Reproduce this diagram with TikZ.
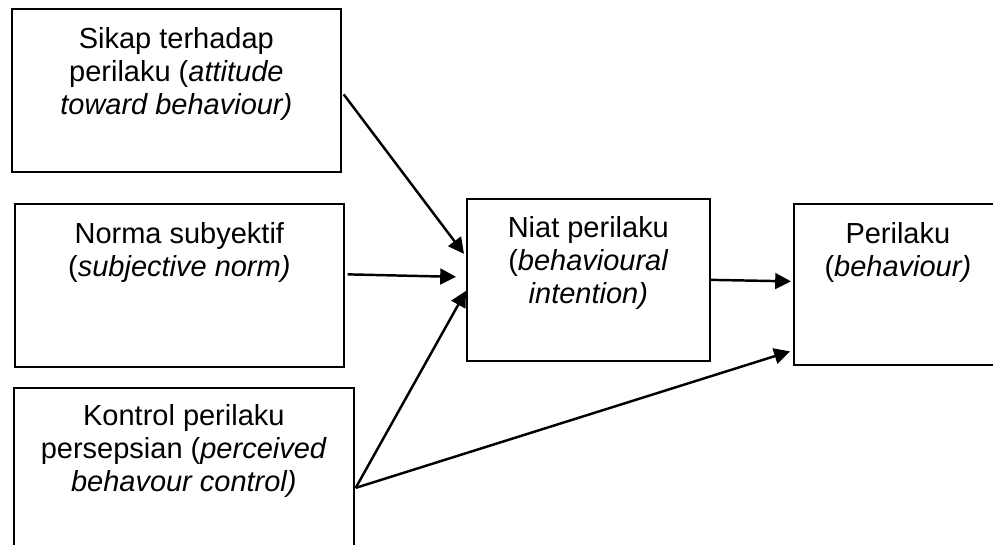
\documentclass[tikz,border=0pt]{standalone}
\usepackage{fontspec}
\setmainfont{Liberation Sans}
\usetikzlibrary{arrows.meta,calc}
\tikzset{
  box/.style={draw, line width=1pt, inner sep=0pt, anchor=north west},
  lbl/.style={anchor=north, align=center, inner sep=0pt, font=\fontsize{16.5}{18.7}\selectfont},
  link/.style={->, line width=1.4pt},
}

\begin{document}
\begin{tikzpicture}[x=0.02cm, y=-0.02cm, >={Triangle[length=9pt,width=9pt]}]
  \clip (0,0) rectangle (993,544);

  % faktor-faktor
  \node[box, minimum width=6.58cm, minimum height=3.26cm] (sikap) at (11,8) {};
  \node[lbl] (sikap-t) at ($(sikap.north)+(0,19)$) {Sikap terhadap\\perilaku (\textit{attitude}\\\textit{toward behaviour)}};

  \node[box, minimum width=6.58cm, minimum height=3.26cm] (norma) at (14,203) {};
  \node[lbl] (norma-t) at ($(norma.north)+(0,19)$) {Norma subyektif\\(\textit{subjective norm)}};

  \node[box, minimum width=6.8cm, minimum height=3.4cm] (kontrol) at (13,387) {};
  \node[lbl] (kontrol-t) at ($(kontrol.north)+(0,17)$) {Kontrol perilaku\\persepsian (\textit{perceived}\\\textit{behavour control)}};

  % niat dan perilaku
  \node[box, minimum width=4.86cm, minimum height=3.24cm] (niat) at (466,198) {};
  \node[lbl] (niat-t) at ($(niat.north)+(0,18)$) {Niat perilaku\\(\textit{behavioural}\\\textit{intention)}};

  \node[box, minimum width=4.16cm, minimum height=3.22cm] (perilaku) at (793,203) {};
  \node[lbl] (perilaku-t) at ($(perilaku.north)+(0,19)$) {Perilaku\\(\textit{behaviour)}};

  % panah
  \draw[link] ($(sikap.east)+(2,4)$) -- ($(niat.west)+(-2,-26)$);
  \draw[link] ($(norma.east)+(3,-11)$) -- ($(niat.west)+(-10,-3)$);
  \draw[link] ($(kontrol.east)+(1,15)$) -- ($(niat.west)+(0,11)$);
  \draw[link] ($(kontrol.east)+(1,15)$) -- ($(perilaku.west)+(-3,67)$);
  \draw[link] (niat.east) -- ($(perilaku.west)+(-2,-3)$);
\end{tikzpicture}
\end{document}
